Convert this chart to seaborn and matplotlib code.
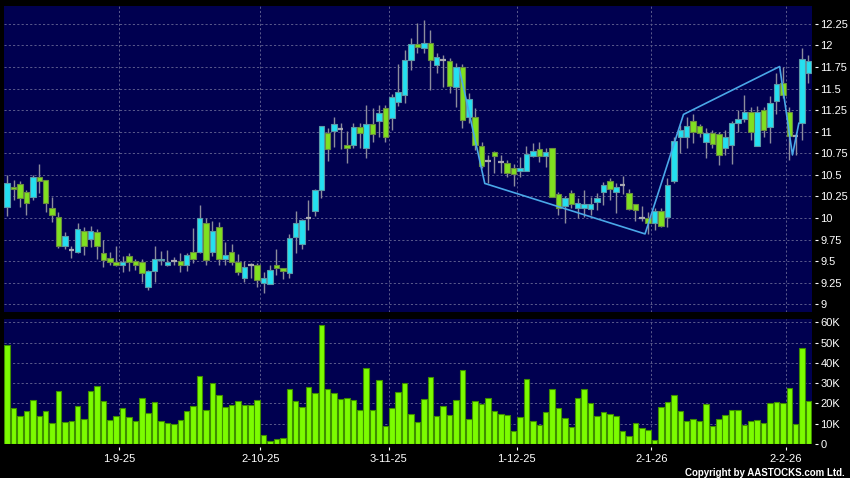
import numpy as np
import pandas as pd
import matplotlib
matplotlib.use("Agg")
import matplotlib.pyplot as plt
import seaborn as sns

# ---------------- data ----------------
opens = [10.13, 10.36, 10.39, 10.30, 10.24, 10.47, 10.44, 10.11, 10.01, 9.67,
         9.63, 9.60, 9.85, 9.76, 9.84, 9.59, 9.54, 9.49, 9.45, 9.56,
         9.50, 9.49, 9.20, 9.38, 9.51, 9.46, 9.50, 9.50, 9.46, 9.60,
         9.61, 9.94, 9.61, 9.89, 9.53, 9.61, 9.49, 9.30, 9.46, 9.45,
         9.25, 9.24, 9.46, 9.42, 9.36, 9.78, 9.70, 10.00, 10.08, 10.32,
         10.99, 11.01, 11.03, 10.84, 10.85, 11.05, 10.81, 11.09, 11.12, 11.28,
         11.16, 11.34, 11.43, 11.83, 12.02, 11.97, 12.03, 11.77, 11.83, 11.82,
         11.52, 11.75, 11.17, 11.17, 10.83, 10.66, 10.77, 10.65, 10.64, 10.58,
         10.54, 10.545, 10.72, 10.80, 10.72, 10.81, 10.275, 10.14, 10.29, 10.11,
         10.12, 10.10, 10.18, 10.30, 10.43, 10.30, 10.38, 10.29, 10.16, 10.00,
         9.995, 9.94, 10.085, 10.01, 10.43, 10.94, 10.935, 11.12, 11.07, 10.885,
         10.99, 10.97, 10.81, 10.85, 11.10, 11.15, 11.23, 10.83, 11.25, 11.05,
         11.355, 11.56, 11.23, 10.95, 11.10, 11.68]
highs = [10.50, 10.44, 10.43, 10.32, 10.50, 10.63, 10.44, 10.24, 10.07, 9.84,
         9.67, 9.94, 9.90, 9.91, 9.87, 9.75, 9.60, 9.67, 9.56, 9.59,
         9.53, 9.52, 9.40, 9.67, 9.62, 9.63, 9.55, 9.59, 9.59, 9.88,
         10.15, 10.00, 9.96, 9.95, 9.72, 9.70, 9.58, 9.50, 9.48, 9.48,
         9.37, 9.46, 9.64, 9.42, 9.81, 10.08, 9.99, 10.21, 10.34, 11.07,
         11.04, 11.17, 11.10, 11.01, 11.10, 11.10, 11.31, 11.27, 11.31, 11.31,
         11.44, 11.79, 11.95, 12.08, 12.26, 12.29, 12.18, 11.91, 11.89, 11.85,
         11.80, 11.79, 11.445, 11.27, 10.88, 10.73, 10.78, 10.73, 10.67, 10.63,
         10.71, 10.83, 10.87, 10.88, 10.81, 10.81, 10.30, 10.25, 10.32, 10.23,
         10.32, 10.24, 10.29, 10.42, 10.46, 10.40, 10.49, 10.34, 10.16, 10.14,
         10.07, 10.11, 10.11, 10.46, 10.94, 11.08, 11.17, 11.21, 11.09, 11.04,
         11.02, 11.00, 11.02, 11.12, 11.25, 11.425, 11.29, 11.30, 11.29, 11.41,
         11.68, 11.75, 11.29, 10.98, 11.97, 11.89]
lows = [10.02, 10.21, 10.13, 10.03, 10.21, 10.29, 10.07, 9.95, 9.65, 9.64,
        9.54, 9.59, 9.57, 9.66, 9.53, 9.43, 9.45, 9.44, 9.37, 9.39,
        9.40, 9.26, 9.16, 9.26, 9.46, 9.44, 9.46, 9.37, 9.38, 9.48,
        9.59, 9.45, 9.56, 9.46, 9.45, 9.45, 9.34, 9.26, 9.30, 9.20,
        9.13, 9.24, 9.34, 9.29, 9.30, 9.59, 9.64, 9.86, 10.02, 10.23,
        10.66, 10.82, 10.80, 10.64, 10.81, 10.81, 10.69, 10.88, 10.94, 10.88,
        11.02, 11.30, 11.33, 11.71, 11.91, 11.91, 11.48, 11.68, 11.52, 11.445,
        11.29, 11.04, 11.10, 10.79, 10.58, 10.40, 10.52, 10.52, 10.48, 10.37,
        10.48, 10.54, 10.71, 10.65, 10.59, 10.24, 10.035, 9.94, 10.11, 10.00,
        10.015, 10.035, 10.09, 10.15, 10.21, 10.06, 10.28, 10.09, 9.965, 9.96,
        9.815, 9.86, 9.89, 9.89, 10.40, 10.75, 10.81, 10.865, 10.94, 10.69,
        10.81, 10.61, 10.73, 10.63, 11.00, 11.115, 10.90, 10.83, 10.94, 10.87,
        11.21, 11.39, 10.67, 10.73, 10.90, 11.56]
closes = [10.41, 10.33, 10.23, 10.17, 10.47, 10.43, 10.17, 10.04, 9.68, 9.79,
          9.63, 9.87, 9.67, 9.85, 9.67, 9.51, 9.49, 9.45, 9.49, 9.49,
          9.46, 9.36, 9.38, 9.53, 9.53, 9.49, 9.50, 9.46, 9.57, 9.53,
          10.00, 9.51, 9.85, 9.52, 9.57, 9.49, 9.37, 9.43, 9.46, 9.28,
          9.30, 9.40, 9.42, 9.39, 9.77, 9.94, 9.98, 10.00, 10.32, 11.07,
          10.80, 11.09, 11.03, 10.81, 11.05, 10.98, 11.09, 10.97, 11.22, 10.94,
          11.40, 11.46, 11.83, 12.02, 11.985, 12.03, 11.83, 11.86, 11.83, 11.53,
          11.75, 11.13, 11.375, 10.85, 10.60, 10.66, 10.72, 10.65, 10.525, 10.51,
          10.58, 10.74, 10.78, 10.72, 10.77, 10.24, 10.11, 10.23, 10.16, 10.17,
          10.16, 10.16, 10.23, 10.385, 10.34, 10.36, 10.38, 10.10, 10.09, 10.00,
          9.94, 10.085, 9.91, 10.38, 10.89, 11.02, 11.07, 11.00, 10.98, 10.99,
          10.86, 10.73, 10.94, 11.10, 11.15, 11.23, 11.00, 11.23, 11.02, 11.335,
          11.55, 11.425, 10.95, 10.95, 11.84, 11.82]
volumes_k = [48.8, 17.7, 14.0, 16.5, 21.5, 13.6, 16.5, 10.2, 26.3, 10.7,
             11.2, 18.8, 12.1, 26.1, 28.6, 21.3, 11.9, 14.0, 17.9, 13.4,
             11.1, 22.6, 15.4, 20.5, 11.2, 10.2, 10.1, 11.9, 16.4, 18.8,
             33.7, 17.0, 30.1, 24.1, 18.0, 19.0, 21.0, 19.3, 19.3, 21.8,
             4.5, 1.3, 2.5, 3.1, 26.9, 21.0, 18.3, 28.3, 25.1, 58.5,
             26.9, 25.1, 22.3, 22.8, 21.8, 17.0, 37.5, 17.0, 31.6, 8.8,
             17.7, 25.6, 30.1, 14.9, 10.7, 22.0, 33.0, 14.0, 18.5, 14.5,
             21.8, 36.4, 12.4, 21.2, 19.5, 22.5, 16.5, 15.0, 14.5, 6.3,
             13.1, 31.9, 11.1, 9.3, 15.7, 26.9, 17.9, 12.6, 8.6, 22.6,
             27.3, 20.3, 13.7, 16.0, 15.0, 14.0, 6.6, 3.8, 10.2, 7.9,
             7.1, 2.0, 18.0, 20.8, 24.3, 16.5, 11.2, 12.1, 11.2, 19.7,
             9.1, 12.1, 14.5, 16.9, 16.9, 9.3, 11.1, 11.9, 10.2, 20.2,
             20.5, 20.0, 27.4, 9.9, 47.1, 21.0]

date_labels = ["1-9-25", "2-10-25", "3-11-25", "1-12-25", "2-1-26", "2-2-26"]
date_bars = [18, 40, 60, 80, 101, 122]

zz_bars = [71, 75, 100, 106, 121, 123, 124]
zz_prices = [11.74, 10.40, 9.815, 11.20, 11.755, 10.73, 11.10]

price_ticks = [9, 9.25, 9.5, 9.75, 10, 10.25, 10.5, 10.75, 11, 11.25, 11.5, 11.75, 12, 12.25]
vol_ticks = [0, 10, 20, 30, 40, 50, 60]

# ---------------- style ----------------
sns.set_theme(style="dark")
plt.rcParams["font.family"] = ["Liberation Sans", "DejaVu Sans"]

NAVY = "#000050"
GRID = "#5a5a8c"
CYAN = "#24e0f0"
CYAN_E = "#5a9aa8"
GREEN = "#80e020"
GREEN_E = "#6a8c40"
WICK = "#8c8c9c"
DOJI = "#a8a8b0"
VOL = "#7cfc00"
VOL_E = "#3f8f00"
ZZ = "#4aa8e8"

df = pd.DataFrame({"o": opens, "h": highs, "l": lows, "c": closes, "v": volumes_k})
df["idx"] = np.arange(len(df))
up = df[df.c > df.o]
dn = df[df.c < df.o]
dj = df[df.c == df.o]

fig = plt.figure(figsize=(8.5, 4.78), dpi=100, facecolor="black")
W, H = 850.0, 478.0
left, right = 4.0, 811.7
ax = fig.add_axes([left / W, 1 - 312 / H, (right - left) / W, (312 - 5.7) / H])
axv = fig.add_axes([left / W, 1 - 444 / H, (right - left) / W, (444 - 319) / H])

for a in (ax, axv):
    a.set_facecolor(NAVY)
    for s in a.spines.values():
        s.set_visible(False)

# ---------------- price panel ----------------
bw = 0.86
ax.vlines(df.idx, df.l, df.h, color=WICK, lw=1.0, zorder=2)
ax.bar(up.idx, up.c - up.o, bottom=up.o, width=bw, color=CYAN, edgecolor=CYAN_E,
       linewidth=0.8, zorder=3)
ax.bar(dn.idx, dn.o - dn.c, bottom=dn.c, width=bw, color=GREEN, edgecolor=GREEN_E,
       linewidth=0.8, zorder=3)
ax.hlines(dj.c, dj.idx - bw / 2, dj.idx + bw / 2, color=DOJI, lw=1.6, zorder=3)

sns.lineplot(x=np.array(zz_bars) - 0.5, y=zz_prices, sort=False, color=ZZ, lw=1.2,
             ax=ax, zorder=4)

n = len(df)
ax.set_xlim(-0.5, n - 0.5)
ax.set_ylim(8.91, 12.46)
ax.set_xticks(np.array(date_bars) - 0.5)
ax.tick_params(axis="x", length=0, labelbottom=False)
ax.yaxis.tick_right()
ax.set_yticks(price_ticks)
ax.set_yticklabels([f"{v:g}" for v in price_ticks])
ax.spines["right"].set_position(("outward", 2.5))
ax.tick_params(axis="y", which="both", right=True, left=False, direction="out",
               length=2.5, width=0.8, color="white", labelcolor="white",
               labelsize=8, pad=1.2)
ax.grid(True, color=GRID, ls=(0, (2.2, 2.2)), lw=0.7)
ax.set_axisbelow(True)
ax.set_xlabel("")
ax.set_ylabel("")

# ---------------- volume panel ----------------
sns.barplot(data=df, x="idx", y="v", native_scale=True, color=VOL, saturation=1,
            width=bw, edgecolor=VOL_E, linewidth=0.8, ax=axv, zorder=3)
axv.set_xlim(-0.5, n - 0.5)
axv.set_ylim(0, 61.6)
axv.set_xticks(np.array(date_bars) - 0.5)
axv.set_xticklabels(date_labels)
axv.yaxis.tick_right()
axv.set_yticks(vol_ticks)
axv.set_yticklabels([("%dK" % v) if v else "0" for v in vol_ticks])
axv.spines["right"].set_position(("outward", 2.5))
axv.spines["bottom"].set_position(("outward", 2.5))
axv.tick_params(axis="y", right=True, left=False, direction="out", length=2.5,
                width=0.8, color="white", labelcolor="white", labelsize=8, pad=1.2)
axv.tick_params(axis="x", bottom=True, direction="out", length=2.5, width=0.8,
                color="white", labelcolor="white", labelsize=8, pad=2.5)
axv.grid(True, color=GRID, ls=(0, (2.2, 2.2)), lw=0.7)
axv.set_axisbelow(True)
axv.set_xlabel("")
axv.set_ylabel("")

fig.text(0.994, 0.0115, "Copyright by AASTOCKS.com Ltd.", color="white",
         fontsize=7, fontweight="bold", ha="right", va="center")

fig.savefig("out.png", dpi=100, facecolor="black")
